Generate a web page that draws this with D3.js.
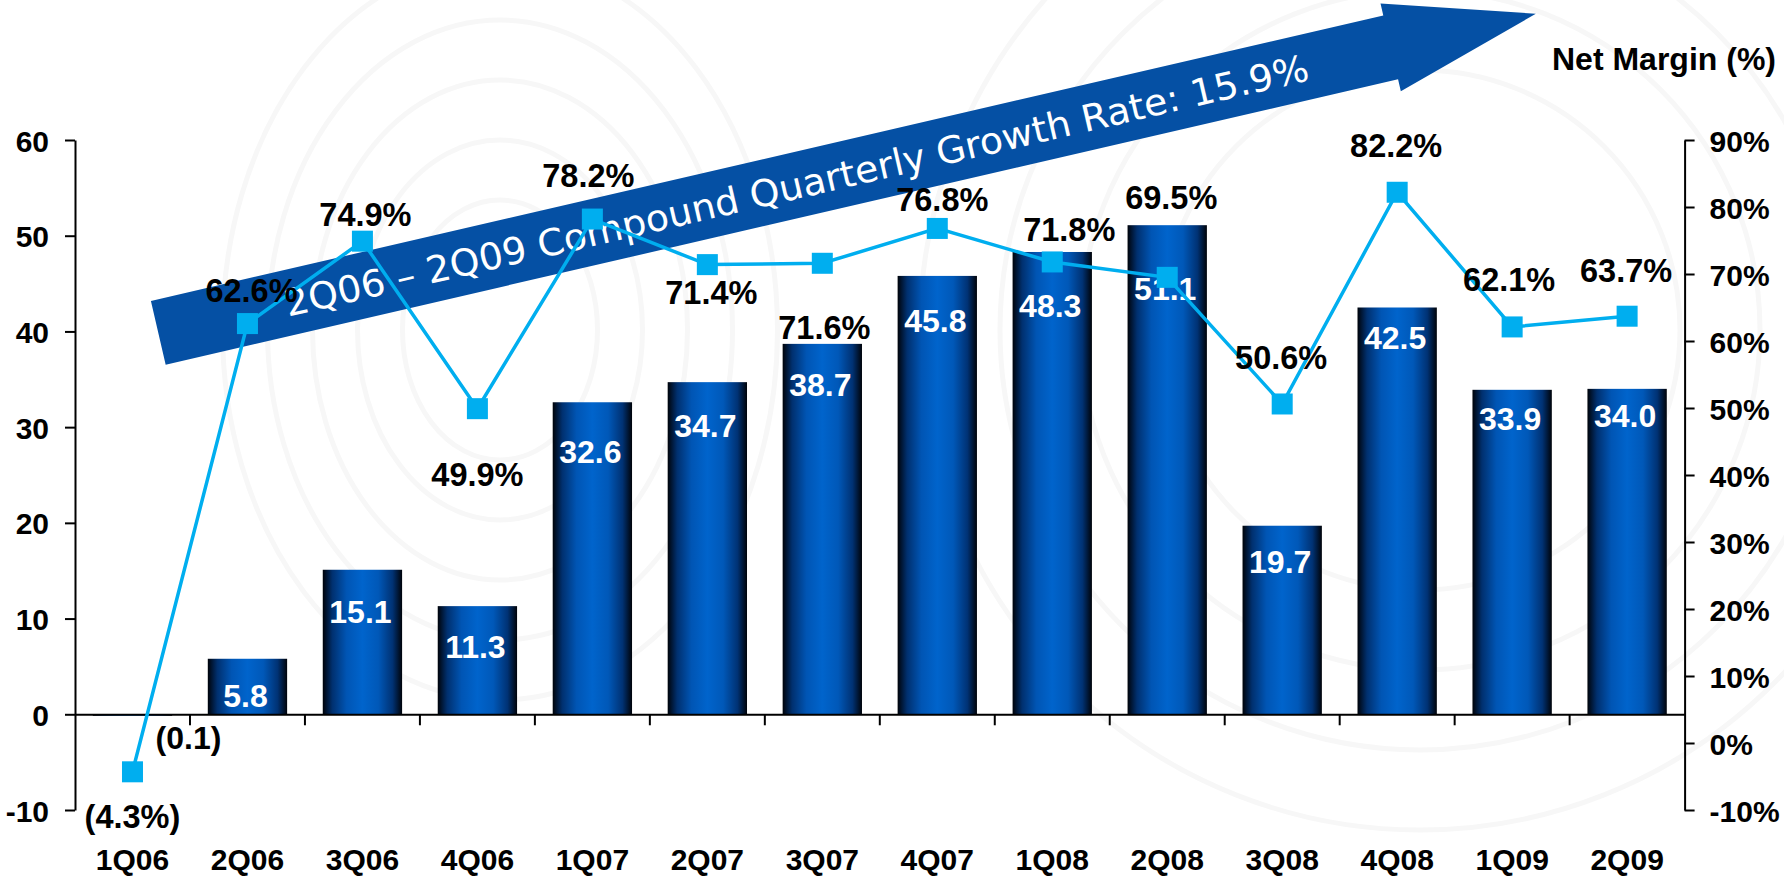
<!DOCTYPE html>
<html>
<head>
<meta charset="utf-8">
<script src="https://cdn.jsdelivr.net/npm/d3@7"></script>
<style>
  body { margin: 0; background: #fff; }
  svg { display: block; }
  text { font-family: "Liberation Sans", Arial, sans-serif; font-weight: bold; }
</style>
</head>
<body>
<script>
// chart data
var quarters = ["1Q06", "2Q06", "3Q06", "4Q06", "1Q07", "2Q07", "3Q07",
                "4Q07", "1Q08", "2Q08", "3Q08", "4Q08", "1Q09", "2Q09"];
var netIncome = [-0.1, 5.8, 15.1, 11.3, 32.6, 34.7, 38.7, 45.8, 48.3, 51.1, 19.7, 42.5, 33.9, 34.0];
var netMargin = [-4.3, 62.6, 74.9, 49.9, 78.2, 71.4, 71.6, 76.8, 71.8, 69.5, 50.6, 82.2, 62.1, 63.7];
var leftTicks = [-10, 0, 10, 20, 30, 40, 50, 60];
var rightTicks = [-10, 0, 10, 20, 30, 40, 50, 60, 70, 80, 90];
var rightTitle = "Net Margin (%)";
var arrowText = "2Q06 \u2013 2Q09 Compound Quarterly Growth Rate: 15.9%";

// size of the page
var w = 1784;
var h = 876;

// label nudges, as placed by hand in the original slide
var barLabelDrop = [35, 48, 53, 52, 61, 55, 52, 56, 65, 75, 47, 41, 40, 38];
var marginLabelDy = [56, -22, -15, 77, -32, 39, 76, -17, -21, -68, -35, -35, -36, -34];
var marginLabelDx = [0, 4, 3, 0, -4, 4, 2, 5, 17, 4, -1, -1, -3, -1];

var svg = d3.select("body").append("svg")
            .attr("width", w)
            .attr("height", h);

// very faint globe watermark behind the chart
var wm = svg.append("g")
            .attr("fill", "none")
            .attr("stroke", "#f7f7f7")
            .attr("stroke-width", 5);
[130, 190, 250, 310, 370].forEach(function(r) {
    wm.append("ellipse").attr("cx", 500).attr("cy", 330).attr("rx", r * 0.75).attr("ry", r);
});
[260, 340, 420, 500].forEach(function(r) {
    wm.append("circle").attr("cx", 1420).attr("cy", 330).attr("r", r);
});

// horizontal shading of the bars
var grad = svg.append("defs").append("linearGradient")
              .attr("id", "barShade")
              .attr("x1", "0").attr("x2", "1").attr("y1", "0").attr("y2", "0");
[[0, "#000309"], [0.12, "#00306f"], [0.3, "#0055b4"], [0.5, "#0064cc"],
 [0.7, "#0058b8"], [0.88, "#003274"], [1, "#000309"]].forEach(function(s) {
    grad.append("stop").attr("offset", s[0]).attr("stop-color", s[1]);
});

// scales
var x = d3.scaleBand()
          .domain(quarters)
          .range([75, 1684.6])
          .padding(0);
var yLeft = d3.scaleLinear().domain([-10, 60]).range([810, 140]);
var yRight = d3.scaleLinear().domain([-10, 90]).range([810, 140]);
var barW = x.bandwidth() * 0.69;

function cx(i) { return x(quarters[i]) + x.bandwidth() / 2; }

// growth arrow, drawn first so everything else sits on it
var arrow = svg.append("g")
               .attr("transform", "translate(158.3,332.8) rotate(-13.04)");
arrow.append("path")
     .attr("d", "M0,-32.7 L1265,-32.7 L1265,-45 L1414,0 L1265,45 L1265,32.7 L0,32.7 Z")
     .attr("fill", "#0550a4");
arrow.append("text")
     .attr("x", 130)
     .attr("y", 13.6)
     .attr("fill", "#fff")
     .style("font-family", "'DejaVu Sans', Verdana, sans-serif")
     .style("font-weight", "normal")
     .style("font-size", "37px")
     .attr("textLength", 1050)
     .attr("lengthAdjust", "spacingAndGlyphs")
     .text(arrowText);

// bars
svg.selectAll("rect.bar")
   .data(netIncome)
   .enter()
   .append("rect")
   .attr("class", "bar")
   .attr("x", function(d, i) { return cx(i) - barW / 2; })
   .attr("y", function(d) { return yLeft(Math.max(d, 0)); })
   .attr("width", barW)
   .attr("height", function(d) { return Math.max(Math.abs(yLeft(d) - yLeft(0)), 1.5); })
   .attr("fill", "url(#barShade)");

// left axis (plain hyphen for negatives, as in the slide)
var axL = svg.append("g")
             .attr("transform", "translate(75,0)")
             .call(d3.axisLeft(yLeft).tickValues(leftTicks).tickSize(10).tickSizeOuter(0).tickPadding(16)
                     .tickFormat(function(d) { return String(d); }));
// right axis
var axR = svg.append("g")
             .attr("transform", "translate(1684.6,0)")
             .call(d3.axisRight(yRight).tickValues(rightTicks).tickSize(10).tickSizeOuter(0).tickPadding(15)
                     .tickFormat(function(d) { return d + "%"; }));
// category axis at zero
var axB = svg.append("g")
             .attr("transform", "translate(0," + yLeft(0) + ")")
             .call(d3.axisBottom(x).tickSize(0).tickSizeOuter(0).tickPadding(134));

[axL, axR, axB].forEach(function(g) {
    g.attr("font-size", null).attr("font-family", null);
    g.selectAll("path, line").attr("stroke", "#000").attr("stroke-width", 2);
    g.selectAll("text")
     .attr("fill", "#000")
     .style("font-size", "30px");
});
axL.selectAll("text").attr("dy", "0.37em");
axR.selectAll("text").attr("dy", "0.37em");

// ticks between the quarters
axB.selectAll("line.sep")
   .data(quarters.slice(1))
   .enter()
   .append("line")
   .attr("class", "sep")
   .attr("x1", function(d) { return x(d); })
   .attr("x2", function(d) { return x(d); })
   .attr("y1", 0)
   .attr("y2", 11)
   .attr("stroke", "#000")
   .attr("stroke-width", 2);

// bar value labels
svg.selectAll("text.barLabel")
   .data(netIncome)
   .enter()
   .append("text")
   .attr("class", "barLabel")
   .attr("x", function(d, i) { return d < 0 ? cx(i) + 56 : cx(i) - 2; })
   .attr("y", function(d, i) { return yLeft(Math.max(d, 0)) + barLabelDrop[i]; })
   .attr("text-anchor", "middle")
   .attr("fill", function(d) { return d < 0 ? "#000" : "#fff"; })
   .style("font-size", "32px")
   .text(function(d) { return d < 0 ? "(" + Math.abs(d).toFixed(1) + ")" : d.toFixed(1); });

// net margin line
var line = d3.line()
             .x(function(d, i) { return cx(i); })
             .y(function(d) { return yRight(d); });
svg.append("path")
   .datum(netMargin)
   .attr("d", line)
   .attr("fill", "none")
   .attr("stroke", "#00aeef")
   .attr("stroke-width", 3.5);

svg.selectAll("rect.marker")
   .data(netMargin)
   .enter()
   .append("rect")
   .attr("class", "marker")
   .attr("x", function(d, i) { return cx(i) - 10.5; })
   .attr("y", function(d) { return yRight(d) - 10.5; })
   .attr("width", 21)
   .attr("height", 21)
   .attr("fill", "#00aeef");

svg.selectAll("text.pct")
   .data(netMargin)
   .enter()
   .append("text")
   .attr("class", "pct")
   .attr("x", function(d, i) { return cx(i) + marginLabelDx[i]; })
   .attr("y", function(d, i) { return yRight(d) + marginLabelDy[i]; })
   .attr("text-anchor", "middle")
   .attr("fill", "#000")
   .style("font-size", "32.5px")
   .text(function(d) { return d < 0 ? "(" + Math.abs(d).toFixed(1) + "%)" : d.toFixed(1) + "%"; });

// right axis title
svg.append("text")
   .attr("x", 1776)
   .attr("y", 70)
   .attr("text-anchor", "end")
   .attr("fill", "#000")
   .style("font-size", "32px")
   .text(rightTitle);
</script>
</body>
</html>
